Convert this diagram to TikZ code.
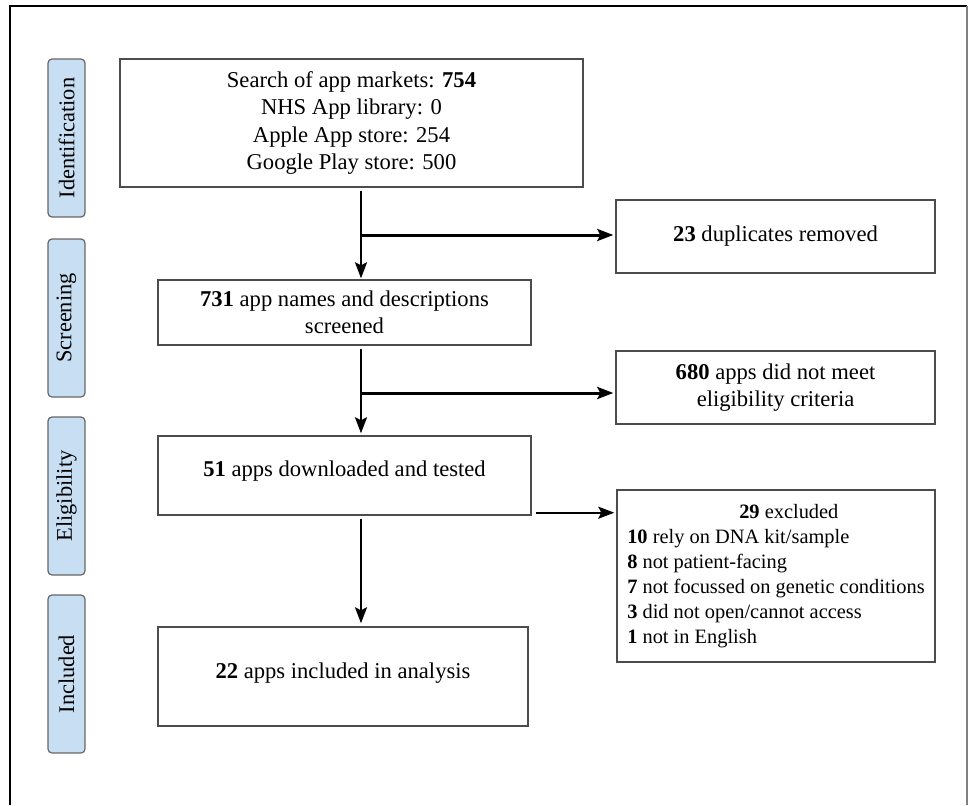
\documentclass[tikz,border=0pt]{standalone}
\usepackage{fontspec}
\setmainfont{Liberation Serif}
\usetikzlibrary{arrows.meta}
\definecolor{stageblue}{RGB}{200,222,243}
\tikzstyle{box} = [draw=black!70,line width=1.4pt,align=center,inner sep=4pt,font=\fontsize{22.6}{27.3}\selectfont]
\tikzstyle{stage} = [draw=black!60,fill=stageblue,line width=1.2pt,rounded corners=4pt,rotate=90,minimum width=158pt,minimum height=37pt,inner sep=0pt,font=\fontsize{22.4}{27}\selectfont]
\tikzstyle{arrow} = [line width=2.2pt,-{Stealth[length=16pt,width=12pt,inset=3pt]}]
\tikzstyle{branch} = [line width=3pt,-{Stealth[length=16pt,width=12pt,inset=3pt]}]

\begin{document}
\begin{tikzpicture}[x=1pt,y=-1pt]
    \useasboundingbox (0,0) rectangle (968,805);
    % outer frame
    \draw[line width=2.2pt] (10,805) -- (10,6) -- (967,6);
    \draw[black!50,line width=1.4pt] (967,6) -- (967,805);

    % stages
    \node[stage] (ident) at (66.5,138) {Identification};
    \node[stage] (scr) at (66.5,318) {Screening};
    \node[stage] (elig) at (66.5,496) {Eligibility};
    \node[stage] (incl) at (66.5,674) {Included};

    % boxes
    \node[box,minimum width=463pt,minimum height=128pt] (search) at (351.5,123)
        {Search of app markets: \textbf{754}\\NHS App library: 0\\Apple App store: 254\\Google Play store: 500};
    \node[box,minimum width=319pt,minimum height=73pt] (dup) at (775.5,236.5) {\textbf{23} duplicates removed};
    \node[box,minimum width=373pt,minimum height=65pt] (screened) at (344.5,312.5)
        {\textbf{731} app names and descriptions\\screened};
    \node[box,minimum width=319pt,minimum height=73pt] (inelig) at (775.5,387.5)
        {\textbf{680} apps did not meet\\eligibility criteria};
    \node[box,minimum width=373pt,minimum height=79pt,text depth=14.4pt] (tested) at (344.5,475.5)
        {\textbf{51} apps downloaded and tested};
    \node[box,minimum width=318pt,minimum height=172pt,align=left,font=\fontsize{20.4}{25}\selectfont] (excl) at (776,576)
        {\hspace*{112pt}\textbf{29} excluded\\
         \textbf{10} rely on DNA kit/sample\\
         \textbf{8} not patient-facing\\
         \textbf{7} not focussed on genetic conditions\\
         \textbf{3} did not open/cannot access\\
         \textbf{1} not in English};
    \node[box,minimum width=370pt,minimum height=99pt,text depth=12.4pt] (included) at (343,676.5)
        {\textbf{22} apps included in analysis};

    % connectors
    \coordinate (split1) at (361,235);
    \coordinate (split2) at (361,393);
    \coordinate (exit) at ([xshift=4pt,yshift=3pt]tested.south east);
    \draw[arrow,shorten <=3pt,shorten >=1pt] (search.south -| split1) -- (screened.north -| split1);
    \draw[branch,shorten >=2pt] (split1) -- (split1 -| dup.west);
    \draw[arrow,shorten <=3pt,shorten >=2pt] (screened.south -| split2) -- (tested.north -| split2);
    \draw[branch,shorten >=2pt] (split2) -- (split2 -| inelig.west);
    \draw[arrow,shorten >=2pt] (exit) -- (exit -| excl.west);
    \draw[arrow,shorten <=3pt,shorten >=3pt] (tested.south -| split2) -- (included.north -| split2);
\end{tikzpicture}
\end{document}
